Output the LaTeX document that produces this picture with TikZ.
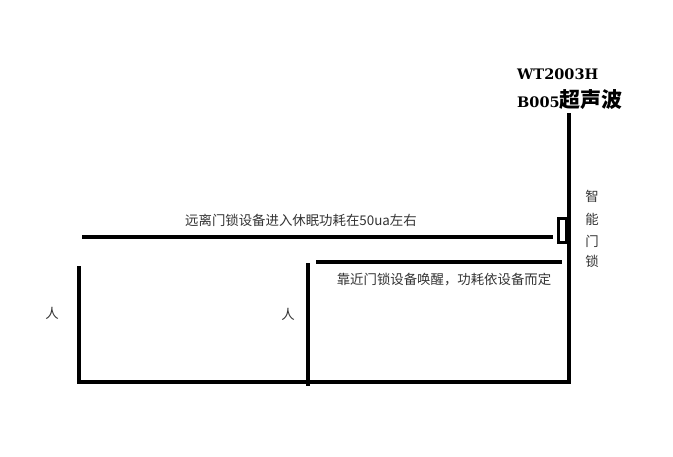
\documentclass[tikz,border=0pt]{standalone}
\usepackage{fontspec}
\newfontfamily\cjk{Noto Sans CJK SC}
\newfontfamily\hdserif{DejaVu Serif}
\tikzset{
  thick line/.style={line width=4.3pt, line cap=rect},
  lbl/.style={inner sep=0pt, font=\cjk\fontsize{13.4}{15}\selectfont, text=black!80},
}
\begin{document}
\begin{tikzpicture}[x=1pt,y=-1pt]
\useasboundingbox (0,0) rectangle (673,456);
% coordinates
\coordinate (rt) at (569,115);
\coordinate (rb) at (569,382);
\coordinate (t1) at (84,237);
\coordinate (t2) at (551,237);
\coordinate (s1) at (318,262);
\coordinate (s2) at (560,262);
\coordinate (lt) at (79,268);
\coordinate (lb) at (79,382);
\coordinate (mt) at (308,265);
\coordinate (mb) at (308,384);
% lines
\draw[thick line] (rt) -- (rb);
\draw[thick line] (t1) -- (t2);
\draw[thick line] (s1) -- (s2);
\draw[thick line] (lt) -- (lb);
\draw[thick line] (mt) -- (mb);
\draw[thick line] (lb) -- (rb);
\draw[line width=3pt] (558.5,218.5) rectangle (566,242);
% header
\node[anchor=west, inner sep=0pt, font=\hdserif\bfseries\fontsize{14.5}{16}\selectfont] (h1) at (517,74) {WT2003H};
\node[anchor=west, inner sep=0pt, font=\hdserif\bfseries\fontsize{14.5}{16}\selectfont] (h2) at (517,100) {B005{\cjk\bfseries\fontsize{21}{22}\selectfont 超声波}};
% labels
\node[lbl] (l1) at (301,220) {远离门锁设备进入休眠功耗在50ua左右};
\node[lbl] (l2) at (444,280) {靠近门锁设备唤醒，功耗依设备而定};
\node[lbl] (p1) at (52,313) {人};
\node[lbl] (p2) at (288,314) {人};
\node[lbl] (v1) at (592,196) {智};
\node[lbl] (v2) at (592,219) {能};
\node[lbl] (v3) at (592,241) {门};
\node[lbl] (v4) at (592,261) {锁};
\end{tikzpicture}
\end{document}
